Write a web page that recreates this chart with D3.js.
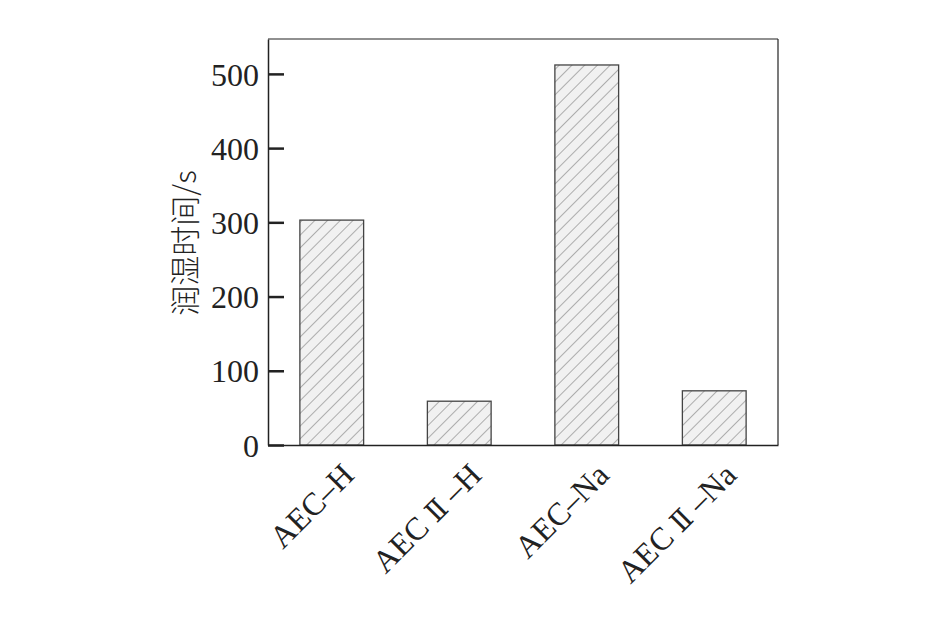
<!DOCTYPE html>
<html><head><meta charset="utf-8">
<script src="https://cdn.jsdelivr.net/npm/d3@7"></script>
<style>body{margin:0;background:#fff}svg{display:block}</style>
</head><body><svg id="c" width="945" height="626"></svg>
<script>
const categories = ["AEC–H", "AECⅡ–H", "AEC–Na", "AECⅡ–Na"];
const values = [303, 59, 512, 73];
const yTicks = [0, 100, 200, 300, 400, 500];
const yTitle = "润湿时间/s";

const svg = d3.select("#c");
const L = 268, R = 778, T = 39, B = 445;
const x = d3.scaleBand().domain(categories).range([L, R]).paddingInner(0.5).paddingOuter(0.25);
const y = d3.scaleLinear().domain([0, 547]).range([B, T]);

const defs = svg.append("defs");
const pat = defs.append("pattern").attr("id", "hatch").attr("patternUnits", "userSpaceOnUse")
  .attr("width", 9).attr("height", 9).attr("patternTransform", "rotate(45)");
pat.append("rect").attr("width", 9).attr("height", 9).attr("fill", "#f1f1f1");
pat.append("line").attr("x1", 0).attr("y1", 0).attr("x2", 0).attr("y2", 9)
  .attr("stroke", "#6a6a6a").attr("stroke-width", 1);

svg.selectAll("rect.bar").data(values).join("rect").attr("class", "bar")
  .attr("x", (d, i) => x(categories[i])).attr("width", x.bandwidth())
  .attr("y", d => y(d)).attr("height", d => y(0) - y(d))
  .attr("fill", "url(#hatch)").attr("stroke", "#444").attr("stroke-width", 1.3);

// frame
svg.append("line").attr("x1", L).attr("x2", R).attr("y1", T).attr("y2", T).attr("stroke", "#222").attr("stroke-width", 1.2);
svg.append("line").attr("x1", R).attr("x2", R).attr("y1", T).attr("y2", B).attr("stroke", "#222").attr("stroke-width", 1.2);

const ya = svg.append("g").attr("transform", `translate(${L},0)`)
  .call(d3.axisLeft(y).tickValues(yTicks).tickSize(-16).tickPadding(24).tickSizeOuter(0));
ya.select(".domain").attr("stroke", "#222").attr("stroke-width", 1.5);
ya.selectAll(".tick line").attr("stroke", "#222").attr("stroke-width", 2.5);
ya.selectAll(".tick text").attr("font-family", "Liberation Serif").attr("font-size", 32).attr("fill", "#222")
  .attr("x", -9).attr("dy", "0.35em");

const xa = svg.append("g").attr("transform", `translate(0,${B})`)
  .call(d3.axisBottom(x).tickSize(0).tickSizeOuter(0));
xa.select(".domain").attr("stroke", "#222").attr("stroke-width", 1.5);
xa.selectAll(".tick text").each(function(d) {
  const t = d3.select(this).text(null)
    .attr("font-family", "Liberation Serif").attr("font-size", 32).attr("fill", "#222")
    .attr("text-anchor", "end").attr("y", 0).attr("dy", 0)
    .attr("transform", "translate(24,32) rotate(-45)");
  const parts = d.split("Ⅱ");
  if (parts.length === 2) {
    t.append("tspan").text(parts[0] + " ");
    t.append("tspan").attr("font-family", "DejaVu Serif").attr("font-size", 28).text("Ⅱ");
    t.append("tspan").text(" " + parts[1]);
  } else {
    t.append("tspan").text(d);
  }
});

svg.append("text").attr("transform", `translate(196,243) rotate(-90)`)
  .attr("text-anchor", "middle").attr("font-family", "Noto Sans CJK SC").attr("font-weight", 300)
  .attr("font-size", 30).attr("fill", "#222").text(yTitle);
</script></body></html>
